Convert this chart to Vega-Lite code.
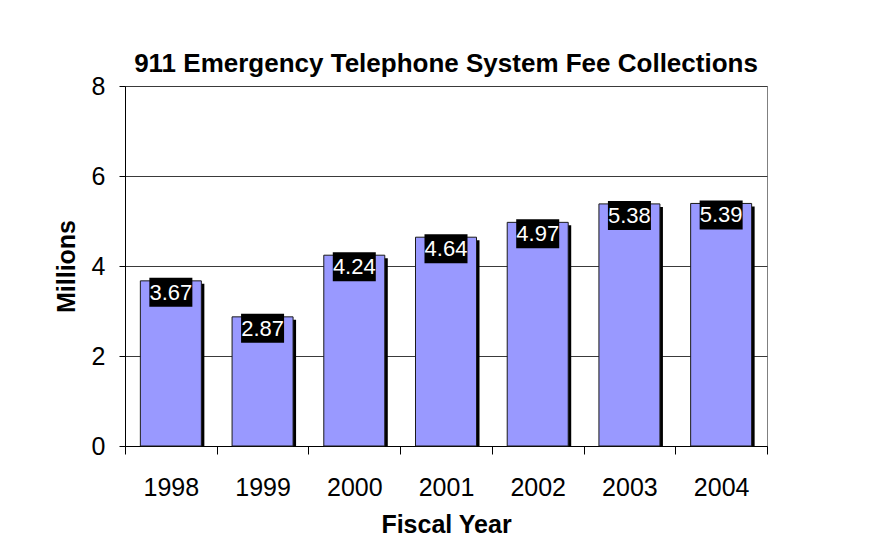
{
  "$schema": "https://vega.github.io/schema/vega-lite/v6.json",
  "width": 642,
  "height": 360,
  "autosize": {"type": "none"},
  "padding": {"left": 125, "top": 86, "right": 103, "bottom": 112},
  "background": "white",
  "title": {
    "text": "911 Emergency Telephone System Fee Collections",
    "font": "Liberation Sans",
    "fontSize": 26,
    "fontWeight": "bold",
    "color": "#000000",
    "anchor": "middle",
    "offset": -3
  },
  "data": {
    "values": [
      {"year": "1998", "value": 3.67},
      {"year": "1999", "value": 2.87},
      {"year": "2000", "value": 4.24},
      {"year": "2001", "value": 4.64},
      {"year": "2002", "value": 4.97},
      {"year": "2003", "value": 5.38},
      {"year": "2004", "value": 5.39}
    ]
  },
  "encoding": {
    "x": {
      "field": "year",
      "type": "nominal",
      "sort": null,
      "scale": {"paddingInner": 0, "paddingOuter": 0},
      "axis": {
        "title": "Fiscal Year",
        "titleFont": "Liberation Sans",
        "titleFontSize": 25,
        "titleFontWeight": "bold",
        "titleColor": "#000",
        "titlePadding": 12,
        "labelFont": "Liberation Sans",
        "labelFontSize": 25,
        "labelColor": "#000",
        "labelAngle": 0,
        "labelPadding": 21,
        "tickBand": "extent",
        "tickSize": 8,
        "tickColor": "#000",
        "domainColor": "#000",
        "grid": false
      }
    }
  },
  "layer": [
    {
      "mark": {"type": "bar", "color": "#000000", "width": 61, "xOffset": 3, "yOffset": 3, "clip": true},
      "encoding": {
        "y": {
          "field": "value",
          "type": "quantitative",
          "scale": {"domain": [0, 8]},
          "axis": {
            "title": "Millions",
            "titleFont": "Liberation Sans",
            "titleFontSize": 25,
            "titleFontWeight": "bold",
            "titleColor": "#000",
            "titlePadding": 12,
            "labelFont": "Liberation Sans",
            "labelFontSize": 25,
            "labelColor": "#000",
            "labelPadding": 14,
            "values": [0, 2, 4, 6, 8],
            "tickSize": 6,
            "tickColor": "#000",
            "domainColor": "#000",
            "grid": true,
            "gridColor": "#3a3a3a",
            "gridWidth": 1
          }
        }
      }
    },
    {
      "mark": {"type": "bar", "fill": "#9999FF", "stroke": "#1a1a1a", "strokeWidth": 1, "width": 61},
      "encoding": {"y": {"field": "value", "type": "quantitative"}}
    },
    {
      "mark": {"type": "bar", "color": "#000000", "width": 43, "yOffset": -3, "y2Offset": 26},
      "encoding": {
        "y": {"field": "value", "type": "quantitative"},
        "y2": {"field": "value"}
      }
    },
    {
      "mark": {"type": "text", "color": "#ffffff", "font": "Liberation Sans", "fontSize": 22, "baseline": "middle", "align": "center", "yOffset": 12},
      "encoding": {
        "y": {"field": "value", "type": "quantitative"},
        "text": {"field": "value", "type": "quantitative", "format": ".2f"}
      }
    }
  ],
  "config": {
    "view": {"stroke": "#808080", "strokeWidth": 1},
    "axis": {"domainWidth": 1, "tickWidth": 1}
  }
}
